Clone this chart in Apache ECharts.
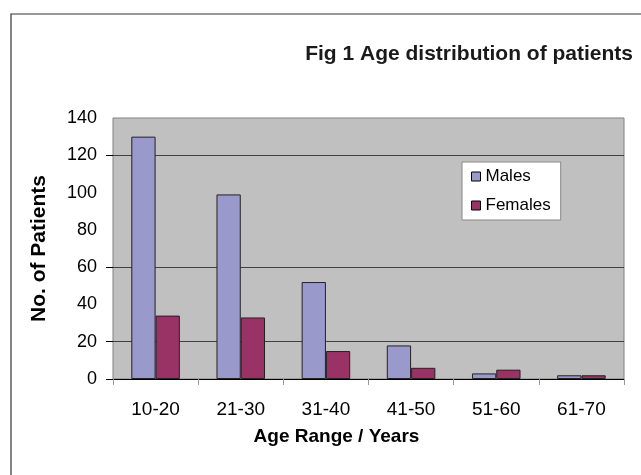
<!DOCTYPE html>
<html><head><meta charset="utf-8">
<script src="https://cdn.jsdelivr.net/npm/echarts@6/dist/echarts.min.js"></script>
<style>html,body{margin:0;padding:0;background:#fff}#c{width:641px;height:475px}</style>
</head><body><div id="c"></div>
<script>
const categories = ['10-20','21-30','31-40','41-50','51-60','61-70'];
const males = [130, 99, 52, 18, 3, 2];
const females = [34, 33, 15, 6, 5, 2];
const yTicks = [0, 20, 60, 120];
const gridValues = [20, 60, 120];

const chart = echarts.init(document.getElementById('c'));
chart.setOption({
  animation: false,
  backgroundColor: '#fff',
  textStyle: {fontFamily: 'Liberation Sans, Arial, sans-serif'},
  graphic: [{type:'rect', shape:{x:11, y:14, width:700, height:600}, style:{fill:'none', stroke:'#333', lineWidth:1.2}, silent:true}],
  title: {
    text: 'Fig 1 Age distribution of patients',
    right: 3, top: 39,
    textStyle: {fontFamily:'Liberation Sans, Arial', fontWeight:'bold', fontSize:21, color:'#1a1a1a'}
  },
  legend: {
    data: ['Males','Females'],
    orient: 'vertical',
    left: 462, top: 162,
    backgroundColor: '#fff',
    borderColor: '#888', borderWidth: 1,
    padding: [6, 10, 6, 9],
    itemGap: 12,
    itemWidth: 9, itemHeight: 9,
    icon: 'rect',
    itemStyle: {borderColor:'#000', borderWidth:1},
    textStyle: {fontSize: 17, color:'#000'}
  },
  grid: {left: 113, right: 17, top: 118, bottom: 96, show: true, backgroundColor:'#c0c0c0', borderColor:'#808080', borderWidth:1},
  xAxis: {
    type: 'category', data: categories,
    axisLine: {lineStyle:{color:'#000', width:1}},
    axisTick: {show:true, length:6, lineStyle:{color:'#999'}},
    axisLabel: {fontSize:19, color:'#000', margin:21},
    name: 'Age Range / Years', nameLocation:'middle', nameGap: 48,
    nameTextStyle: {fontSize:19, fontWeight:'bold', color:'#000', padding:[0,64,0,0]}
  },
  yAxis: {
    type: 'value', min: 0, max: 140, interval: 20,
    axisLine: {show:false},
    axisTick: {show:true, length:7, customValues: yTicks, lineStyle:{color:'#000'}},
    axisLabel: {fontSize:18, color:'#000', margin:16},
    splitLine: {show:false},
    name: 'No. of Patients', nameLocation:'middle', nameGap: 63,
    nameTextStyle: {fontSize:21, fontWeight:'bold', color:'#000'}
  },
  series: [
    {name:'Males', type:'bar', data: males, barGap:'0%', barCategoryGap:'43%', z: 3,
     itemStyle:{color:'#9999cc', borderColor:'#222', borderWidth:1},
     markLine: {
       silent: true, symbol: 'none', z: 1,
       label: {show:false},
       lineStyle: {color:'#404040', width:1, type:'solid'},
       emphasis: {disabled: true},
       data: gridValues.map(v => ({yAxis: v}))
     }},
    {name:'Females', type:'bar', data: females, z: 3,
     itemStyle:{color:'#993366', borderColor:'#222', borderWidth:1}}
  ]
});
</script></body></html>
